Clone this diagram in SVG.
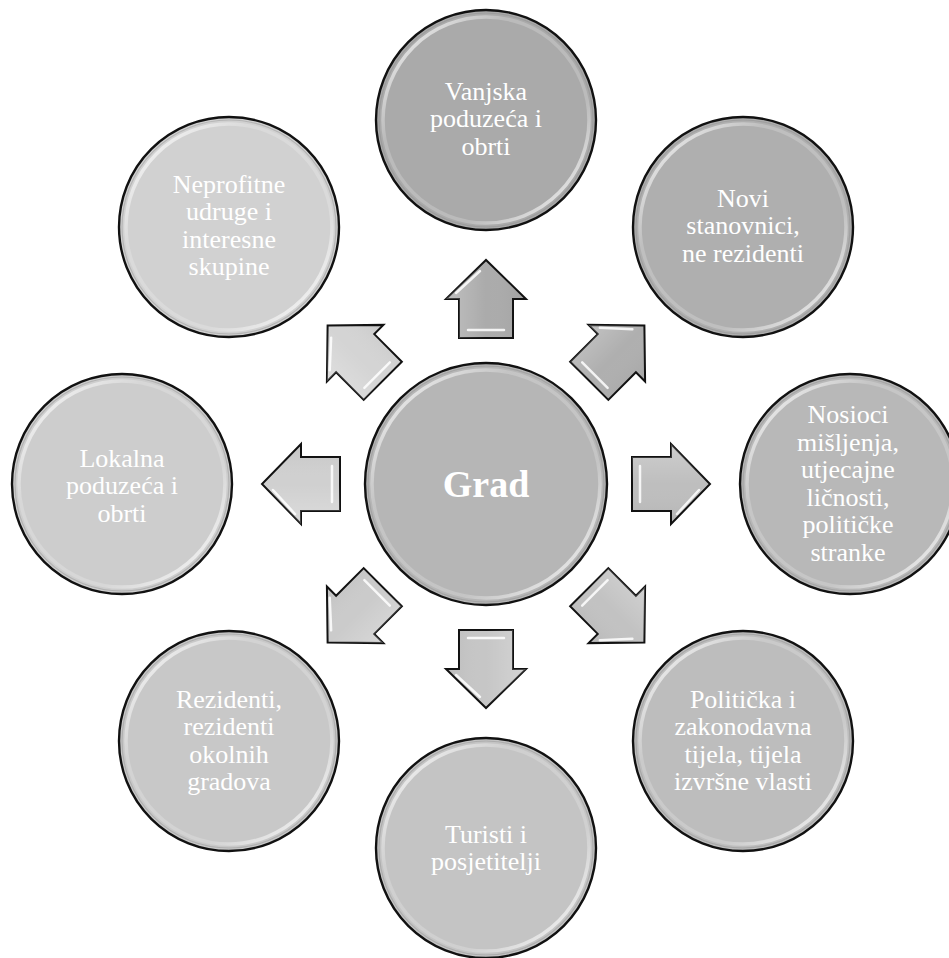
<svg xmlns="http://www.w3.org/2000/svg" width="949" height="958" viewBox="0 0 949 958">
<defs>
<linearGradient id="ring" x1="0" y1="0" x2="1" y2="1">
<stop offset="0" stop-color="#fff" stop-opacity="0.95"/>
<stop offset="0.3" stop-color="#fff" stop-opacity="0.2"/>
<stop offset="0.7" stop-color="#fff" stop-opacity="0.2"/>
<stop offset="1" stop-color="#fff" stop-opacity="0.95"/>
</linearGradient>
<linearGradient id="ashade" x1="0" y1="0" x2="0" y2="1">
<stop offset="0" stop-color="#fff" stop-opacity="0.25"/>
<stop offset="0.5" stop-color="#fff" stop-opacity="0"/>
<stop offset="1" stop-color="#000" stop-opacity="0.06"/>
</linearGradient>
<path id="arr" d="M-39,-27 H0 V-40 L39,0 L0,40 V27 H-39 Z"/>
</defs>
<style>
.edge{stroke:#111;stroke-width:2.4}
.gloss{fill:none;stroke:url(#ring);stroke-width:3.5}
.inner{fill:none;stroke:#8a8a8a;stroke-width:1.2;stroke-opacity:0.4}
.lbl{font-family:"Liberation Serif","Times New Roman",serif;font-size:26px;fill:#fff;text-anchor:middle}
.big{font-family:"Liberation Serif","Times New Roman",serif;font-size:38px;font-weight:bold;fill:#fff;text-anchor:middle}
.ar{stroke:#111;stroke-width:2;stroke-linejoin:miter}
.ash{fill:url(#ashade)}
.hl{fill:none;stroke:#fff;stroke-width:2.5;stroke-linecap:round;stroke-opacity:0.85}
</style>
<rect width="949" height="958" fill="#fff"/>

<g id="connectors">
<g transform="translate(486,484) rotate(270) translate(185,0)"><use href="#arr" class="ar" fill="#ababab"/><use href="#arr" class="ash"/><path class="hl" d="M-31,-18 V18 M6,-30 L28,-6"/></g>
<g transform="translate(486,484) rotate(315) translate(185,0)"><use href="#arr" class="ar" fill="#afafaf"/><use href="#arr" class="ash"/><path class="hl" d="M-31,-18 V18 M6,-30 L28,-6"/></g>
<g transform="translate(486,484) rotate(0) translate(185,0)"><use href="#arr" class="ar" fill="#bebebe"/><use href="#arr" class="ash"/><path class="hl" d="M-31,-18 V18 M6,30 L28,6"/></g>
<g transform="translate(486,484) rotate(45) translate(185,0)"><use href="#arr" class="ar" fill="#c2c2c2"/><use href="#arr" class="ash"/><path class="hl" d="M-31,-18 V18 M6,30 L28,6"/></g>
<g transform="translate(486,484) rotate(90) translate(185,0)"><use href="#arr" class="ar" fill="#c6c6c6"/><use href="#arr" class="ash"/><path class="hl" d="M-31,-18 V18 M6,30 L28,6"/></g>
<g transform="translate(486,484) rotate(135) translate(185,0)"><use href="#arr" class="ar" fill="#cbcbcb"/><use href="#arr" class="ash"/><path class="hl" d="M-31,-18 V18 M6,30 L28,6"/></g>
<g transform="translate(486,484) rotate(180) translate(185,0)"><use href="#arr" class="ar" fill="#d0d0d0"/><use href="#arr" class="ash"/><path class="hl" d="M-31,-18 V18 M6,-30 L28,-6"/></g>
<g transform="translate(486,484) rotate(225) translate(185,0)"><use href="#arr" class="ar" fill="#d4d4d4"/><use href="#arr" class="ash"/><path class="hl" d="M-31,-18 V18 M6,-30 L28,-6"/></g>
</g>

<g id="center">
<circle cx="486" cy="484" r="121" class="edge" fill="#b6b6b6"/>
<circle cx="486" cy="484" r="118" class="inner"/>
<circle cx="486" cy="484" r="114" class="gloss"/>
<text x="486" y="497" class="big">Grad</text>
</g>

<g id="n-vanjska">
<circle cx="486" cy="120" r="110" class="edge" fill="#aaaaaa"/>
<circle cx="486" cy="120" r="107" class="inner"/>
<circle cx="486" cy="120" r="103" class="gloss"/>
<text class="lbl"><tspan x="486" y="100">Vanjska</tspan><tspan x="486" y="127.3">poduzeća i</tspan><tspan x="486" y="154.6">obrti</tspan></text>
</g>

<g id="n-novi">
<circle cx="743" cy="227" r="110" class="edge" fill="#afafaf"/>
<circle cx="743" cy="227" r="107" class="inner"/>
<circle cx="743" cy="227" r="103" class="gloss"/>
<text class="lbl"><tspan x="743" y="207">Novi</tspan><tspan x="743" y="234.3">stanovnici,</tspan><tspan x="743" y="261.6">ne rezidenti</tspan></text>
</g>

<g id="n-nosioci">
<circle cx="850" cy="484" r="110" class="edge" fill="#b8b8b8"/>
<circle cx="850" cy="484" r="107" class="inner"/>
<circle cx="850" cy="484" r="103" class="gloss"/>
<text class="lbl"><tspan x="848" y="423">Nosioci</tspan><tspan x="848" y="450.5">mišljenja,</tspan><tspan x="848" y="478">utjecajne</tspan><tspan x="848" y="505.5">ličnosti,</tspan><tspan x="848" y="533">političke</tspan><tspan x="848" y="560.5">stranke</tspan></text>
</g>

<g id="n-politicka">
<circle cx="743" cy="741" r="110" class="edge" fill="#bdbdbd"/>
<circle cx="743" cy="741" r="107" class="inner"/>
<circle cx="743" cy="741" r="103" class="gloss"/>
<text class="lbl"><tspan x="743" y="708">Politička i</tspan><tspan x="743" y="735.3">zakonodavna</tspan><tspan x="743" y="762.6">tijela, tijela</tspan><tspan x="743" y="789.9">izvršne vlasti</tspan></text>
</g>

<g id="n-turisti">
<circle cx="486" cy="848" r="110" class="edge" fill="#c4c4c4"/>
<circle cx="486" cy="848" r="107" class="inner"/>
<circle cx="486" cy="848" r="103" class="gloss"/>
<text class="lbl"><tspan x="486" y="843">Turisti i</tspan><tspan x="486" y="870.3">posjetitelji</tspan></text>
</g>

<g id="n-rezidenti">
<circle cx="229" cy="741" r="110" class="edge" fill="#c8c8c8"/>
<circle cx="229" cy="741" r="107" class="inner"/>
<circle cx="229" cy="741" r="103" class="gloss"/>
<text class="lbl"><tspan x="229" y="708">Rezidenti,</tspan><tspan x="229" y="735.3">rezidenti</tspan><tspan x="229" y="762.6">okolnih</tspan><tspan x="229" y="789.9">gradova</tspan></text>
</g>

<g id="n-lokalna">
<circle cx="122" cy="484" r="110" class="edge" fill="#cdcdcd"/>
<circle cx="122" cy="484" r="107" class="inner"/>
<circle cx="122" cy="484" r="103" class="gloss"/>
<text class="lbl"><tspan x="122" y="467">Lokalna</tspan><tspan x="122" y="494.3">poduzeća i</tspan><tspan x="122" y="521.6">obrti</tspan></text>
</g>

<g id="n-neprofitne">
<circle cx="229" cy="227" r="110" class="edge" fill="#d1d1d1"/>
<circle cx="229" cy="227" r="107" class="inner"/>
<circle cx="229" cy="227" r="103" class="gloss"/>
<text class="lbl"><tspan x="229" y="193">Neprofitne</tspan><tspan x="229" y="220.3">udruge i</tspan><tspan x="229" y="247.6">interesne</tspan><tspan x="229" y="274.9">skupine</tspan></text>
</g>
</svg>
